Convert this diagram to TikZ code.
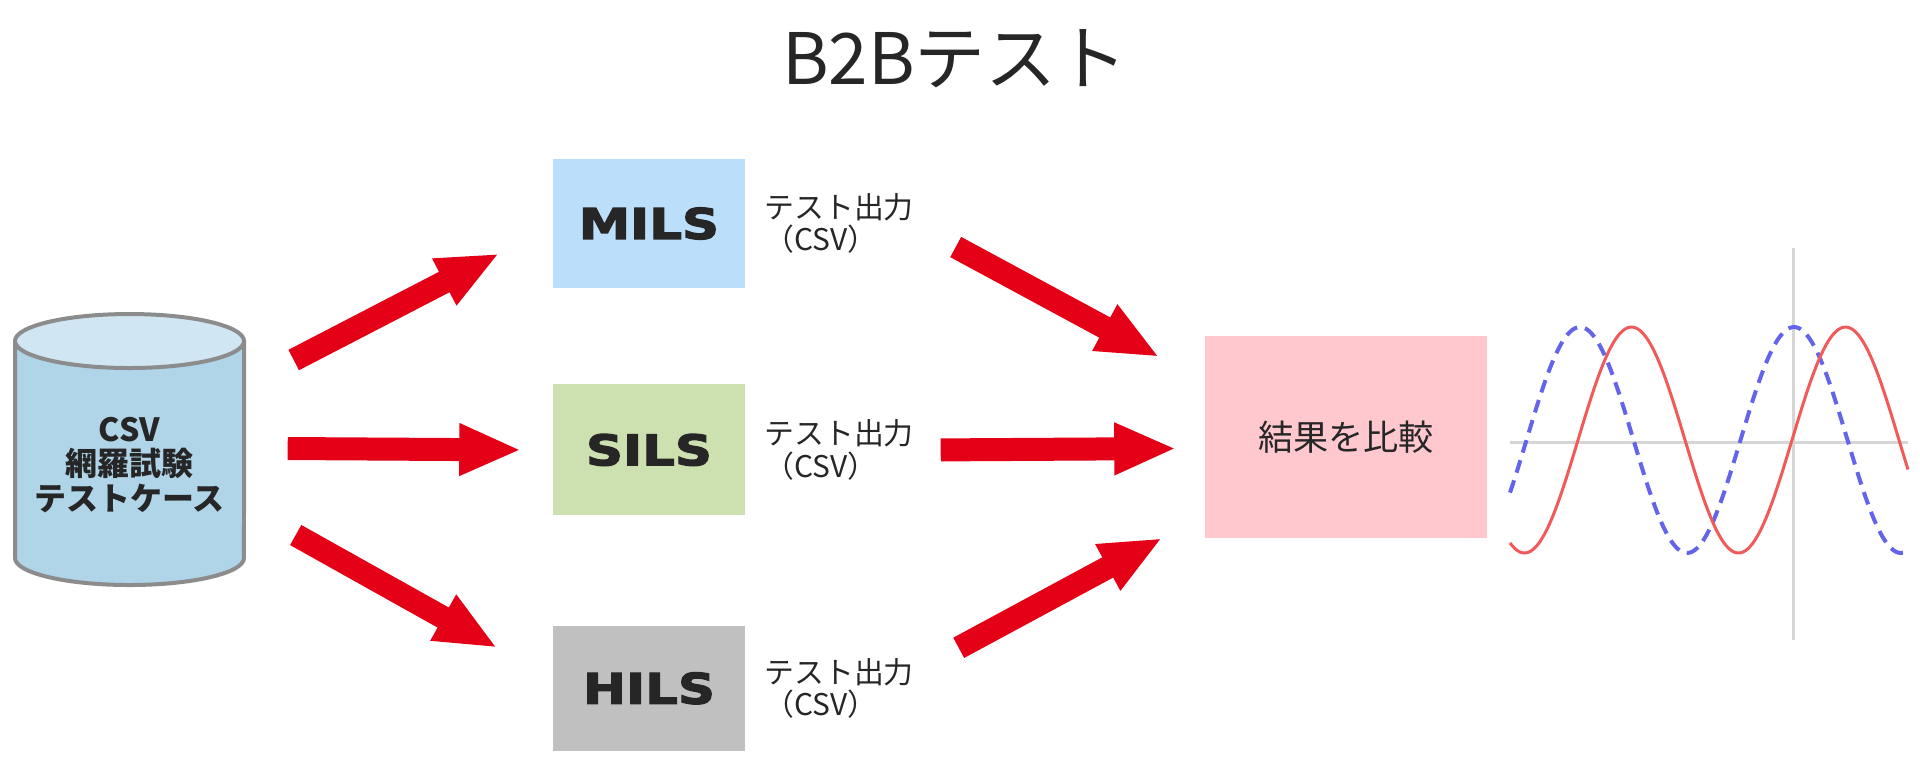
\documentclass[tikz,border=0pt]{standalone}
\usepackage{fontspec}
\setmainfont{Noto Sans CJK JP}
\newfontfamily\ilsfont{DejaVu Sans}[FakeStretch=1.22,FakeBold=3]
\usetikzlibrary{arrows.meta,positioning}

\definecolor{txtgray}{RGB}{38,38,38}
\definecolor{arrowred}{RGB}{228,0,22}
\definecolor{milsblue}{RGB}{187,222,251}
\definecolor{silsgreen}{RGB}{204,224,176}
\definecolor{hilsgray}{RGB}{192,192,192}
\definecolor{cmppink}{RGB}{255,200,206}
\definecolor{dbbody}{RGB}{176,212,232}
\definecolor{dbtop}{RGB}{208,230,242}
\definecolor{dbline}{RGB}{140,140,140}
\definecolor{axisgray}{RGB}{214,214,214}
\definecolor{wavered}{RGB}{240,90,90}
\definecolor{waveblue}{RGB}{100,100,235}

\begin{document}
\begin{tikzpicture}[x=0.1mm, y=-0.1mm,
      every node/.style = {text=txtgray},
        ils/.style = {rectangle, minimum width=19.2mm, inner sep=0pt,
                      font=\ilsfont\bfseries\fontsize{12pt}{12pt}\selectfont},
     outlbl/.style = {align=left, inner sep=0pt, font=\fontsize{8.5pt}{9.3pt}\selectfont},
   bigarrow/.style = {draw=arrowred, line width=2.3mm, -{Triangle[length=6.2mm, width=4.8mm]}},
       wave/.style = {smooth, samples=160, line width=0.3mm}
]
\useasboundingbox (0,0) rectangle (1920,760);

\node (title) [anchor=base, font=\fontsize{20.2pt}{24pt}\selectfont] at (955,84) {B2Bテスト};

% test case database
\path[fill=dbbody, draw=dbline, line width=0.4mm] (15,341) -- (15,558)
    arc[start angle=180, end angle=360, x radius=11.45mm, y radius=2.7mm] -- (244,341);
\draw[fill=dbtop, draw=dbline, line width=0.4mm] (129.5,341) ellipse[x radius=11.45mm, y radius=2.7mm];
\node (db) [align=center, minimum width=22.9mm, inner sep=0pt,
            font=\bfseries\fontsize{9.1pt}{9.8pt}\selectfont] at (129.5,465) {CSV\\網羅試験\\テストケース};

\node (mils) [ils, fill=milsblue, minimum height=12.9mm] at (649,223.5) {MILS};
\node (sils) [ils, fill=silsgreen, minimum height=13.1mm, below=9.5mm of mils] {SILS};
\node (hils) [ils, fill=hilsgray, minimum height=12.5mm, below=10.9mm of sils] {HILS};

\node (out1) [outlbl, right=1.8mm of mils] {テスト出力\\（CSV）};
\node (out2) [outlbl, right=1.8mm of sils] {テスト出力\\（CSV）};
\node (out3) [outlbl, right=1.8mm of hils] {テスト出力\\（CSV）};

\node (cmp) [minimum width=28.2mm, minimum height=20.2mm, fill=cmppink,
             font=\fontsize{10pt}{12pt}\selectfont] at (1346,437) {結果を比較};

\draw[bigarrow] ([shift={(49,-105)}]db.east) -- ([shift={(-53,30)}]mils.west);
\draw[bigarrow] ([shift={(43,-16.5)}]db.east) -- ([shift={(-31,0)}]sils.west);
\draw[bigarrow] ([shift={(51,70)}]db.east) -- ([shift={(-55,-40.5)}]hils.west);
\draw[bigarrow] ([shift={(210,23.5)}]mils.east) -- ([shift={(-45,-80)}]cmp.west);
\draw[bigarrow] ([shift={(195,0)}]sils.east) -- ([shift={(-28,11.5)}]cmp.west);
\draw[bigarrow] ([shift={(213,-40.5)}]hils.east) -- ([shift={(-42,101)}]cmp.west);

% waveforms
\draw[axisgray, line width=0.3mm] (1510,442) -- (1908,442);
\draw[axisgray, line width=0.3mm] (1793,248) -- (1793,640);
\draw[waveblue, wave, line width=0.4mm, dash pattern=on 1.3mm off 0.8mm]
    plot[domain=1510:1908] (\x, {440-113*cos((\x-1580)*1.6822)});
\draw[wavered, wave] plot[domain=1510:1908] (\x, {440-113*sin((\x-1578)*1.6822)});

\end{tikzpicture}
\end{document}
